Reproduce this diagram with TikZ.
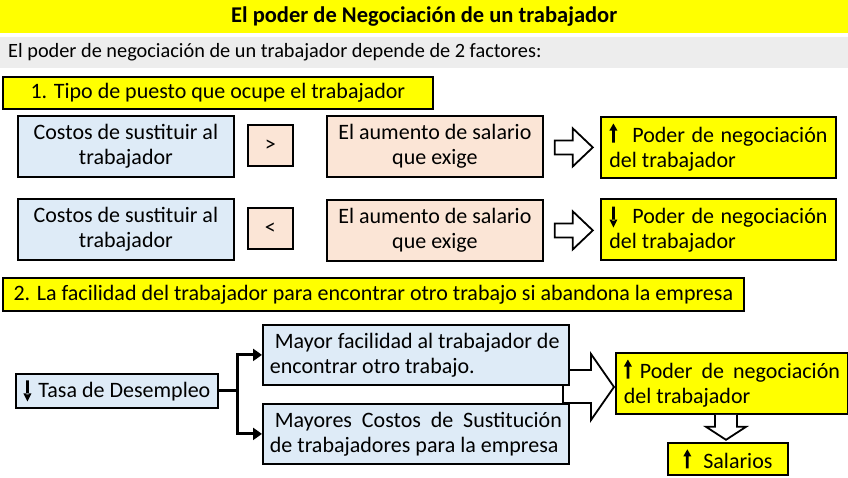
\documentclass[tikz,border=0pt]{standalone}
\usepackage{fontspec}
\setmainfont{Carlito}
\usetikzlibrary{arrows.meta,calc}
\definecolor{ybox}{HTML}{FFFF00}
\definecolor{bbox}{HTML}{DEEBF7}
\definecolor{pbox}{HTML}{FBE5D6}
\definecolor{gbar}{HTML}{EDEDED}
\newcommand\body{\fontsize{22}{25}\selectfont}
\newsavebox\uabox
\newsavebox\dabox
\newcommand\uar{\usebox\uabox}
\newcommand\dar{\usebox\dabox}
\tikzset{
  box/.style={draw=black, line width=1.8pt, inner sep=0pt, font=\body, anchor=north west, align=center},
  lbox/.style={box, align=flush left},
  barrow/.style={draw=black, line width=1.8pt, fill=white, line join=miter},
  brack/.style={draw=black, line width=3pt, -{Triangle[length=9pt,width=12pt]}}
}
\begin{document}
\sbox\uabox{\begin{pgfpicture}\pgfsetbaseline{0pt}%
\pgfpathrectangle{\pgfpoint{-1.4pt}{0pt}}{\pgfpoint{2.8pt}{13pt}}%
\pgfpathmoveto{\pgfpoint{-4pt}{12pt}}\pgfpathlineto{\pgfpoint{4pt}{12pt}}\pgfpathlineto{\pgfpoint{0pt}{19pt}}\pgfpathclose
\pgfusepath{fill}\end{pgfpicture}}%
\sbox\dabox{\begin{pgfpicture}\pgfsetbaseline{0pt}%
\pgfpathrectangle{\pgfpoint{-1.4pt}{3pt}}{\pgfpoint{2.8pt}{14pt}}%
\pgfpathmoveto{\pgfpoint{-4pt}{4pt}}\pgfpathlineto{\pgfpoint{4pt}{4pt}}\pgfpathlineto{\pgfpoint{0pt}{-4pt}}\pgfpathclose
\pgfusepath{fill}\end{pgfpicture}}%
\begin{tikzpicture}[x=1pt,y=-1pt]
\useasboundingbox (0,0) rectangle (848,477);
% title
\node[fill=ybox, minimum width=848pt, minimum height=33pt, inner sep=0pt, anchor=north west, font=\fontsize{22.5}{26}\selectfont\bfseries] (title) at (0,0) {El poder de Negociación de un trabajador};
\fill[gbar] (0,37) rectangle (848,68);
\node[inner sep=0pt, anchor=west, font=\fontsize{20.3}{24}\selectfont] (sub) at (8,52.5) {El poder de negociación de un trabajador depende de 2 factores:};
% part 1
\node[box, fill=ybox, minimum width=430pt, minimum height=32pt] (h1) at (2,76) {1. Tipo de puesto que ocupe el trabajador};
\node[box, fill=bbox, minimum width=216pt, minimum height=61pt] (c1) at (17,115) {Costos de sustituir al\\trabajador};
\node[box, fill=pbox, minimum width=45pt, minimum height=41pt] (g1) at (247,124) {>};
\node[box, fill=pbox, minimum width=216pt, minimum height=61pt] (p1) at (326,115) {El aumento de salario\\que exige};
\node[lbox, fill=ybox, minimum width=235pt, minimum height=61pt, text width=218pt] (y1) at (600,116) {\makebox[218pt][s]{\uar\hspace{15pt}Poder de negociación}\\del trabajador};
\node[box, fill=bbox, minimum width=216pt, minimum height=61pt] (c2) at (17,198) {Costos de sustituir al\\trabajador};
\node[box, fill=pbox, minimum width=45pt, minimum height=41pt] (g2) at (247,207) {<};
\node[box, fill=pbox, minimum width=216pt, minimum height=61pt] (p2) at (326,199) {El aumento de salario\\que exige};
\node[lbox, fill=ybox, minimum width=235pt, minimum height=61pt, text width=218pt] (y2) at (600,198) {\makebox[218pt][s]{\dar\hspace{15pt}Poder de negociación}\\del trabajador};
\draw[barrow, shift={($(p1.east)+(29,1)$)}] (-18,-7) -- (0,-7) -- (0,-19) -- (20,0) -- (0,19) -- (0,7) -- (-18,7) -- cycle;
\draw[barrow, shift={($(p2.east)+(29,0)$)}] (-18,-7) -- (0,-7) -- (0,-19) -- (20,0) -- (0,19) -- (0,7) -- (-18,7) -- cycle;
% part 2
\node[box, fill=ybox, minimum width=741pt, minimum height=33pt] (h2) at (2,277) {2. La facilidad del trabajador para encontrar otro trabajo si abandona la empresa};
\coordinate (bigarr) at (591,387);
\draw[barrow, shift={(bigarr)}] (-28,-17) -- (0,-17) -- (0,-33) -- (23,0) -- (0,33) -- (0,16) -- (-28,16) -- cycle;
\node[box, fill=bbox, minimum width=202pt, minimum height=34pt] (tasa) at (15,373) {\dar\hspace{7pt}Tasa de Desempleo};
\node[lbox, fill=bbox, minimum width=306pt, minimum height=60pt, text width=292pt] (m1) at (262,324) {\hspace*{5pt}Mayor facilidad al trabajador de\\encontrar otro trabajo.};
\node[lbox, fill=bbox, minimum width=306pt, minimum height=60pt, text width=292pt] (m2) at (262,403) {\makebox[292pt][s]{\hspace*{5pt}Mayores  Costos  de  Sustitución}\\de trabajadores para la empresa};
\node[lbox, fill=ybox, minimum width=232pt, minimum height=61pt, text width=216pt] (y3) at (615,352) {\makebox[216pt][s]{\uar\hspace{8pt}Poder de negociación}\\del trabajador};
\node[box, fill=ybox, minimum width=120pt, minimum height=32pt] (sal) at (667,442) {\uar\hspace{12pt}Salarios};
\draw[brack] (tasa.east) -- ++(19,0) |- (m1.west);
\draw[brack] (tasa.east) -- ++(19,0) |- (m2.west);
\draw[barrow, shift={($(y3.south west)+(111,12)$)}] (-11,-12) -- (-11,0) -- (-20,0) -- (0,13) -- (20,0) -- (11,0) -- (11,-12);
\end{tikzpicture}
\end{document}
